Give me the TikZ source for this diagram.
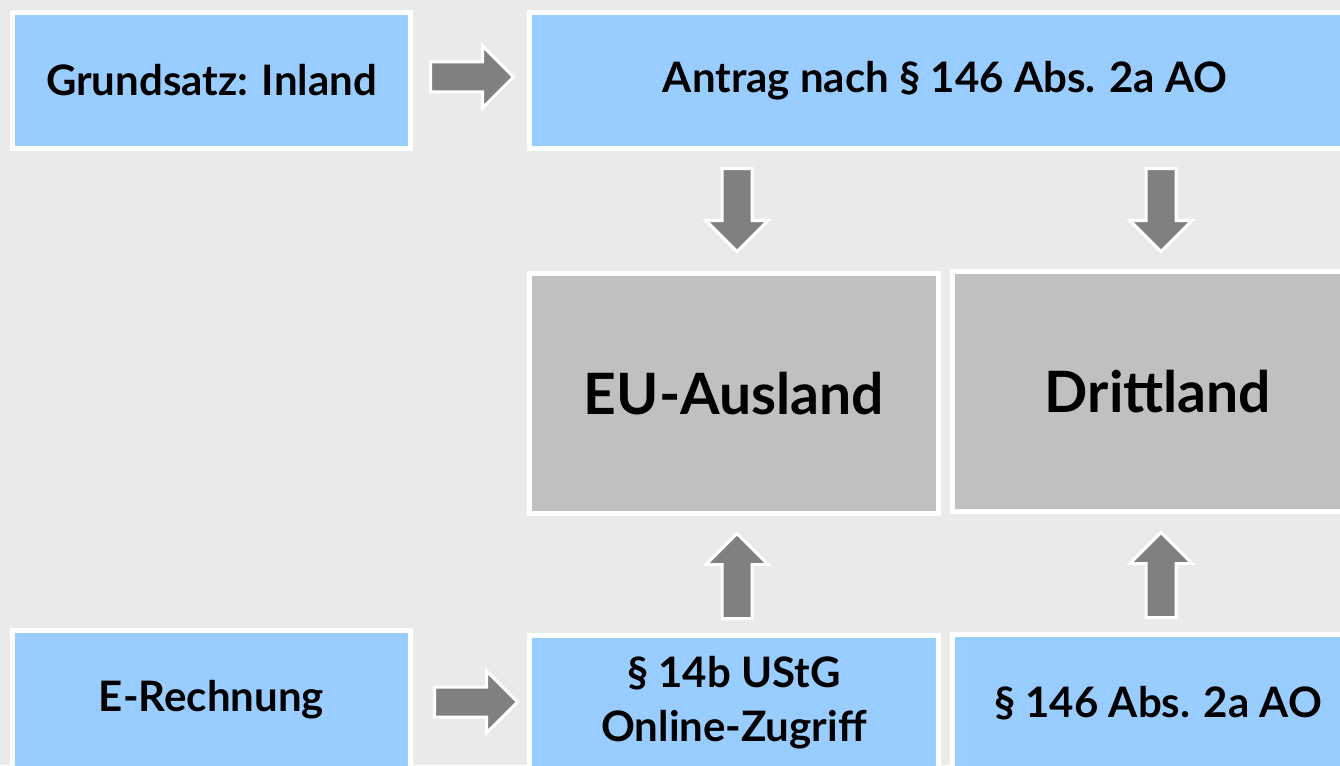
\documentclass[tikz,border=0pt]{standalone}
\usepackage{fontspec}
\setmainfont{Lato}
\usepackage{tikz}
\usetikzlibrary{arrows,shapes}
\usetikzlibrary{calc}

\definecolor{backgray}{HTML}{EAEAEA}
\definecolor{boxblue}{HTML}{99CCFF}
\definecolor{boxgray}{HTML}{C0C0C0}
\definecolor{arrowgray}{HTML}{808080}

\tikzset{
  box/.style={draw=white, line width=5pt, fill=boxblue, inner sep=0pt,
    align=center, font=\fontsize{42}{54}\selectfont\bfseries},
  land/.style={box, fill=boxgray, font=\fontsize{57}{66}\selectfont\bfseries},
  blockarrow/.style={single arrow, draw=white, line width=3pt, fill=arrowgray,
    inner sep=13.5pt, single arrow head extend=16pt, minimum height=83pt, anchor=tail}
}

\begin{document}
\begin{tikzpicture}[x=1pt, y=-1pt]

  % Hintergrund
  \clip (0,0) rectangle (1340,765);
  \fill[backgray] (0,0) rectangle (1340,765);

  % Kaesten
  \node[box, minimum width=398, minimum height=136] (grund) at (211.5,80.5) {Grundsatz: Inland};
  \node[box, minimum width=831, minimum height=136] (antrag) at (945,80.5) {Antrag nach § 146 Abs. 2a AO};
  \node[land, minimum width=409, minimum height=240] (eu) at (734,393.5) {EU-Ausland};
  \node[land, minimum width=411, minimum height=240] (dritt) at (1158,391.5) {Drittland};
  \node[box, minimum width=398, minimum height=139] (erech) at (211.5,700) {E-Rechnung};
  \node[box, minimum width=409, minimum height=135] (ustg) at (734,703) {§ 14b UStG\\Online-Zugriff};
  \node[box, minimum width=411, minimum height=137] (ao) at (1158,703) {§ 146 Abs. 2a AO};

  % Pfeile
  \node[blockarrow] (p1) at ($(grund.east)+(16,-3.5)$) {};
  \node[blockarrow, shape border rotate=270] (p2) at ($(eu.north |- antrag.south)+(3,16)$) {};
  \node[blockarrow, shape border rotate=270] (p3) at ($(dritt.north |- antrag.south)+(3,16)$) {};
  \node[blockarrow, shape border rotate=90, minimum height=85pt] (p4) at ($(ustg.north)+(3,-13)$) {};
  \node[blockarrow, shape border rotate=90, minimum height=85pt] (p5) at ($(ao.north)+(3,-13)$) {};
  \node[blockarrow] (p6) at ($(erech.east)+(20,2)$) {};

\end{tikzpicture}
\end{document}
